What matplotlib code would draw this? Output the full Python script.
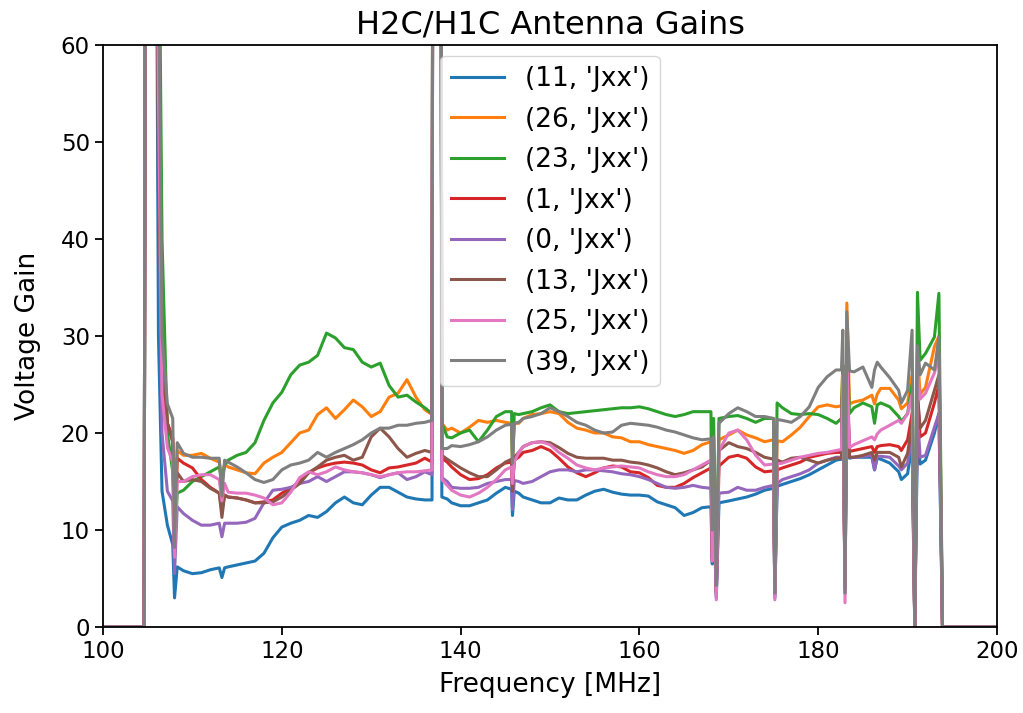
import matplotlib
matplotlib.use("Agg")
import matplotlib.pyplot as plt

# ------------------------------------------------------------
# Per-antenna voltage gains (Jxx) sampled on a shared frequency grid.
# Values above 60 are RFI / band-edge blow-ups that run off the plot.
# ------------------------------------------------------------
freq_mhz = [
    100.0, 104.6, 104.75, 105.9, 106.2, 106.6, 107.2, 107.8, 108.0, 108.3,
    109, 110, 111, 112, 113, 113.3, 113.6, 114, 115, 116,
    117, 118, 119, 120, 121, 122, 123, 124, 125, 126,
    127, 128, 129, 130, 131, 132, 133, 134, 135, 136,
    136.8, 136.9, 137.8, 137.9, 138.5, 139, 140, 141, 142, 143,
    144, 145, 145.7, 145.8, 146.0, 146.5, 147, 148, 149, 150,
    151, 152, 153, 154, 155, 156, 157, 158, 159, 160,
    161, 162, 163, 164, 165, 166, 167, 168.0, 168.15, 168.3,
    168.6, 168.9, 170, 171, 172, 173, 174, 175.0, 175.15, 175.4,
    176, 177, 178, 179, 180, 181, 182, 182.6, 182.75, 183.0,
    183.2, 183.5, 184, 185, 186, 186.3, 186.6, 187, 188, 189,
    189.3, 190, 190.5, 190.8, 191.1, 191.4, 192, 193, 193.5, 193.9,
    200.0,
]

antennas = [11, 26, 23, 1, 0, 13, 25, 39]
pol = 'Jxx'

gain_11 = [
    0, 0, 90, 90, 30, 14, 10.5, 8.5, 3.0, 6.2,
    5.8, 5.5, 5.6, 5.9, 6.1, 5.1, 6.1, 6.2, 6.4, 6.6,
    6.8, 7.6, 9.2, 10.3, 10.7, 11.0, 11.5, 11.3, 11.9, 12.8,
    13.4, 12.8, 12.6, 13.6, 14.4, 14.4, 13.9, 13.4, 13.2, 13.1,
    13.1, 90, 90, 13.4, 13.2, 12.8, 12.5, 12.5, 12.8, 13.1,
    13.8, 14.4, 14.2, 11.5, 14.0, 13.8, 13.4, 13.1, 12.8, 12.8,
    13.3, 13.1, 13.1, 13.6, 14.0, 14.2, 13.9, 13.7, 13.6, 13.6,
    13.5, 12.9, 12.6, 12.3, 11.5, 11.8, 12.3, 12.4, 6.5, 12.5,
    3.0, 12.8, 13.0, 13.2, 13.4, 13.7, 14.1, 14.3, 3.0, 14.5,
    14.7, 15.0, 15.3, 15.7, 16.2, 16.7, 17.2, 17.3, 24, 4.0,
    24, 17.4, 17.5, 17.5, 17.5, 16.2, 17.4, 17.3, 16.9, 16.0,
    15.2, 15.8, 19, 0, 20, 16.8, 17.2, 20.0, 22, 0,
    0,
]
gain_26 = [
    0, 0, 90, 90, 75, 30, 21, 19.3, 8.0, 18.2,
    17.7, 17.7, 17.9, 17.4, 17.0, 15.5, 16.8, 16.5, 16.2, 15.9,
    15.8, 16.9, 17.5, 18.0, 19.0, 20.0, 20.3, 21.9, 22.6, 21.5,
    22.4, 23.4, 22.7, 21.7, 22.2, 23.7, 24.1, 25.5, 23.7, 22.4,
    21.9, 90, 90, 21.0, 20.3, 20.5, 20.0, 20.6, 21.3, 21.1,
    21.3, 21.1, 21.0, 17.0, 21.0, 21.0, 21.5, 21.9, 22.0, 22.2,
    22.0, 21.1, 20.5, 20.3, 20.0, 20.0, 19.6, 19.5, 19.1, 19.1,
    18.8, 18.6, 18.4, 18.2, 17.9, 18.2, 18.8, 19.1, 8.0, 19.2,
    4.0, 19.3, 19.8, 20.3, 19.8, 19.5, 19.1, 19.3, 4.0, 19.2,
    19.1, 19.8, 20.6, 21.7, 22.7, 22.9, 22.7, 22.8, 27, 5.0,
    33.4, 23.0, 23.2, 23.4, 23.9, 23.0, 24.0, 24.6, 24.6, 23.4,
    22.5, 23.1, 26, 0, 28, 24.0, 24.7, 28.9, 30, 0,
    0,
]
gain_23 = [
    0, 0, 90, 90, 80, 40, 20, 16, 8.0, 13.8,
    14.1, 15.0, 15.5, 16.0, 16.5, 15.0, 16.7, 17.2, 17.7, 18.0,
    19.0, 21.3, 23.1, 24.2, 26.0, 27.0, 27.3, 28.0, 30.3, 29.8,
    28.8, 28.6, 27.3, 26.8, 27.2, 24.9, 23.7, 23.9, 23.2, 22.6,
    22.0, 90, 90, 21.0, 19.6, 19.5, 20.0, 20.3, 19.1, 20.3,
    21.7, 22.2, 22.2, 17.0, 22.0, 21.9, 22.0, 22.2, 22.6, 22.9,
    22.2, 22.0, 22.1, 22.2, 22.3, 22.4, 22.5, 22.6, 22.6, 22.7,
    22.5, 22.2, 21.9, 21.7, 21.9, 22.2, 22.2, 22.2, 8.0, 21.5,
    4.0, 21.5, 21.7, 21.8, 21.5, 21.1, 21.5, 21.5, 4.0, 23.1,
    22.6, 22.0, 21.9, 22.0, 21.9, 21.5, 21.0, 21.5, 27, 5.0,
    30, 22.0, 22.6, 23.1, 22.7, 21.0, 22.9, 23.1, 22.7, 21.7,
    21.2, 22.0, 25, 0, 34.5, 27.5, 28.2, 29.9, 34.4, 0,
    0,
]
gain_1 = [
    0, 0, 90, 90, 60, 26, 21, 19.5, 8.0, 17.4,
    16.9, 16.4, 15.2, 14.4, 13.8, 12.0, 13.6, 13.4, 13.3, 13.1,
    12.8, 12.9, 13.1, 13.8, 14.3, 15.0, 15.9, 16.4, 16.7, 16.9,
    17.0, 16.9, 16.7, 16.2, 15.9, 16.4, 16.5, 16.7, 16.9, 17.4,
    17.0, 90, 90, 17.4, 17.0, 16.5, 15.7, 15.2, 15.3, 15.7,
    16.4, 16.9, 17.0, 14.0, 17.2, 17.5, 18.0, 18.2, 18.6, 18.2,
    17.4, 16.5, 15.9, 15.5, 15.9, 16.4, 16.6, 16.5, 16.0, 15.9,
    15.4, 14.6, 14.4, 14.4, 14.8, 15.4, 15.9, 16.4, 7.0, 16.5,
    3.5, 16.6, 17.5, 17.7, 17.4, 16.5, 16.0, 16.1, 3.5, 16.2,
    16.4, 16.7, 17.0, 17.5, 17.7, 17.9, 18.0, 18.0, 26, 4.0,
    26, 18.1, 18.2, 18.4, 18.6, 18.0, 18.6, 18.7, 18.8, 18.6,
    18.2, 19.3, 22, 0, 24, 19.6, 20.0, 23.1, 25, 0,
    0,
]
gain_0 = [
    0, 0, 90, 90, 50, 20, 14, 13, 5.5, 12.4,
    11.7, 11.0, 10.5, 10.5, 10.7, 9.3, 10.7, 10.7, 10.7, 10.8,
    11.2, 12.8, 14.1, 14.2, 14.4, 14.8, 15.0, 15.5, 15.0, 15.5,
    16.0, 16.0, 15.9, 15.7, 15.4, 15.7, 15.9, 15.2, 15.5, 16.0,
    15.7, 90, 90, 15.4, 15.0, 14.4, 14.3, 14.3, 14.4, 14.8,
    15.0, 15.2, 15.2, 12.1, 15.1, 15.0, 14.8, 15.0, 15.5, 16.0,
    16.2, 16.2, 16.0, 16.2, 16.2, 16.1, 16.0, 15.8, 15.7, 15.5,
    15.2, 14.8, 14.4, 14.3, 14.4, 14.6, 14.4, 14.3, 6.8, 14.0,
    3.2, 13.8, 13.9, 14.4, 14.1, 14.1, 14.4, 14.6, 3.2, 14.8,
    15.2, 15.5, 15.8, 16.2, 16.9, 17.2, 17.5, 17.5, 25, 3.5,
    25, 17.5, 17.5, 17.6, 17.7, 16.2, 17.6, 17.6, 17.5, 16.6,
    16.2, 16.9, 20, 0, 22, 17.5, 17.7, 20.6, 22, 0,
    0,
]
gain_13 = [
    0, 0, 90, 90, 45, 30, 21, 19, 8.0, 15.9,
    15.0, 15.2, 15.0, 14.3, 13.8, 11.3, 13.6, 13.4, 13.3, 13.1,
    12.8, 12.8, 12.9, 13.4, 14.1, 14.8, 15.9, 16.5, 17.2, 17.5,
    17.7, 17.2, 17.5, 19.6, 20.5, 19.6, 18.4, 17.5, 17.9, 18.2,
    18.0, 90, 90, 17.7, 17.3, 17.0, 16.4, 15.9, 15.5, 15.5,
    16.2, 17.0, 17.3, 14.0, 17.5, 18.0, 18.6, 19.0, 19.1, 19.0,
    18.5, 17.9, 17.5, 17.4, 17.4, 17.4, 17.2, 17.2, 17.0, 16.9,
    16.7, 16.4, 16.0, 15.7, 15.9, 16.2, 16.5, 17.2, 7.0, 17.5,
    3.5, 18.2, 19.0, 18.6, 18.4, 18.0, 17.5, 17.3, 3.5, 17.2,
    17.0, 17.4, 17.5, 17.2, 16.9, 17.2, 17.4, 17.4, 26, 4.0,
    27, 17.5, 17.5, 17.7, 18.0, 17.2, 18.0, 18.0, 18.0, 17.5,
    16.5, 17.9, 21, 0, 24, 20.5, 21.3, 24.4, 26, 0,
    0,
]
gain_25 = [
    0, 0, 90, 90, 55, 24, 18.5, 17, 7.2, 15.0,
    15.0, 15.5, 15.7, 15.7, 15.2, 13.0, 14.8, 13.9, 13.8, 13.8,
    13.6, 13.3, 12.6, 12.8, 13.9, 15.4, 16.0, 15.7, 16.0, 16.5,
    16.2, 16.0, 15.9, 15.7, 15.5, 15.7, 15.9, 16.0, 16.0, 16.1,
    16.2, 90, 90, 15.2, 14.6, 14.1, 13.6, 13.4, 13.8, 14.4,
    15.2, 16.2, 16.5, 14.8, 17.0, 18.0, 18.6, 19.0, 19.1, 18.8,
    18.0, 17.4, 16.7, 16.4, 16.2, 16.4, 16.5, 16.6, 16.5, 16.4,
    16.0, 15.7, 15.5, 15.5, 15.7, 16.2, 16.7, 17.2, 6.8, 17.6,
    2.8, 18.2, 20.0, 20.3, 19.3, 17.7, 16.7, 16.8, 2.8, 16.8,
    16.9, 17.2, 17.5, 17.7, 17.9, 18.0, 18.2, 18.3, 26, 2.5,
    28, 18.5, 18.8, 19.2, 19.6, 19.3, 19.9, 20.3, 20.8, 21.3,
    21.0, 22.0, 24, 0, 26, 23.5, 24.1, 26.2, 28, 0,
    0,
]
gain_39 = [
    0, 0, 90, 90, 70, 30, 23, 21.5, 8.2, 19.0,
    17.9, 17.5, 17.5, 17.4, 17.4, 13.5, 17.2, 17.0, 16.5, 15.9,
    15.2, 14.9, 15.2, 16.2, 16.7, 16.9, 17.2, 18.0, 17.5, 18.0,
    18.4, 18.8, 19.3, 20.0, 20.5, 20.5, 20.8, 20.8, 21.0, 21.1,
    21.3, 90, 90, 18.4, 18.4, 18.7, 18.6, 18.8, 19.1, 19.6,
    20.3, 20.8, 20.9, 16.9, 21.0, 21.1, 21.5, 21.7, 22.0, 22.6,
    22.2, 21.7, 21.1, 20.8, 20.3, 20.0, 20.1, 20.8, 21.0, 20.9,
    20.8, 20.6, 20.3, 20.1, 19.8, 19.5, 19.3, 19.4, 10.0, 19.6,
    4.3, 21.0, 22.0, 22.6, 22.2, 21.7, 21.7, 21.5, 3.5, 21.4,
    21.3, 21.1, 21.7, 22.7, 24.7, 25.8, 26.5, 26.5, 30.6, 3.5,
    32.5, 26.4, 26.3, 26.8, 24.7, 26.5, 27.3, 26.8, 25.7, 24.4,
    23.1, 24.4, 30.6, 0, 29, 26, 27.2, 26.5, 29.9, 0,
    0,
]

gains = [gain_11, gain_26, gain_23, gain_1, gain_0, gain_13, gain_25, gain_39]

# ------------------------------------------------------------
# Plot
# ------------------------------------------------------------
fig = plt.figure(figsize=(10.23, 7.13), dpi=100)
ax = fig.add_axes([0.1007, 0.1206, 0.8739, 0.8163])

for ant, g in zip(antennas, gains):
    assert len(g) == len(freq_mhz)
    ax.plot(freq_mhz, g, lw=2.2, label=str((ant, pol)))

ax.set_xlim(100, 200)
ax.set_ylim(0, 60)
ax.set_title('H2C/H1C Antenna Gains', fontsize=23, pad=8)
ax.set_xlabel('Frequency [MHz]', fontsize=19, labelpad=6)
ax.set_ylabel('Voltage Gain', fontsize=19, labelpad=14)
ax.tick_params(labelsize=16.5, length=6, width=1.3)
for sp in ax.spines.values():
    sp.set_linewidth(1.3)
ax.legend(loc='upper center', fontsize=19, handlelength=2.0,
          labelspacing=0.55, borderaxespad=0.4)

fig.savefig('out.png', dpi=100)
